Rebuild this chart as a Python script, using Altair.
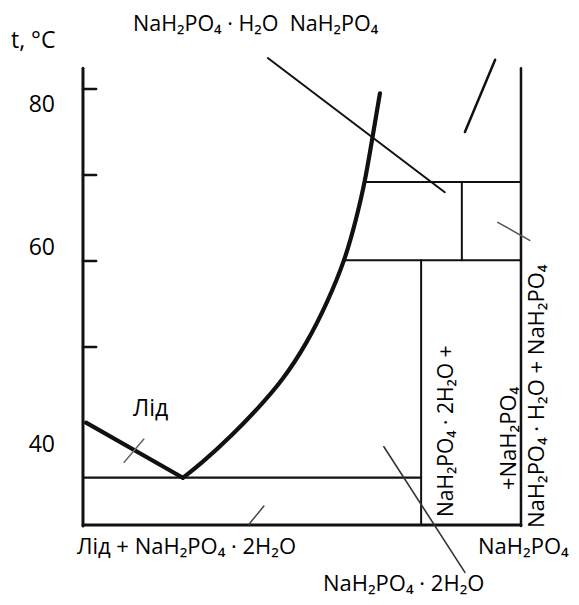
import altair as alt
import pandas as pd

# ---- data (x: composition units 0..100, y: temperature, °C) ----
seg_x1 = [0, 0, 100, 0, 0, 0, 0, 0, 77.2, 59.8, 64.4, 86.5, 0.7, 42.2, 94.1, 94.7, 9.4, 41.3, 68.7]
seg_y1 = [82.4, 29.3, 82.4, 80, 70, 60, 50, 34.8, 60.1, 60.1, 69.2, 69.2, 41.2, 83.6, 83.4, 64.5, 36.6, 31.5, 38.4]
seg_x2 = [0, 100, 100, 3, 3, 3, 3, 77.2, 77.2, 100, 100, 86.5, 22.8, 82.6, 87.2, 102.0, 13.9, 37.9, 87.2]
seg_y2 = [29.2, 29.3, 29.2, 80, 70, 60, 50, 34.8, 29.3, 60.1, 69.2, 60.1, 34.8, 68.0, 75.0, 62.4, 39.3, 29.4, 23.8]
seg_w = [3, 3, 2.5, 2.5, 2.5, 2.5, 2.5, 2.2, 2, 2, 2, 2, 4.2, 2, 2.5, 1.5, 1.5, 1.5, 1.6]
seg_c = ["#111"] * 15 + ["#555", "#666", "#444", "#333"]

curve_x = [22.8, 26.7, 34.2, 40.0, 45.4, 51.1, 55.9, 59.8, 62.3, 64.4, 66.2, 67.8]
curve_y = [34.8, 36.3, 39.8, 42.9, 46.0, 50.4, 55.3, 60.1, 64.7, 69.2, 74.7, 79.5]

tick_labels = ["80", "60", "40"]
tick_lx = [-6.39, -6.39, -6.39]
tick_ly = [77.36, 60.70, 37.83]

lab_text = ["t, °C", "NaH₂PO₄ · H₂O\u00a0\u00a0NaH₂PO₄", "Лід", "Лід + NaH₂PO₄ · 2H₂O", "NaH₂PO₄", "NaH₂PO₄ · 2H₂O"]
lab_x = [-16.44, 11.42, 11.42, -1.37, 90.2, 54.79]
lab_y = [84.73, 86.74, 41.98, 25.93, 25.93, 21.6]
lab_size = [23, 21.5, 23, 22, 22, 22]

rot_text = ["NaH₂PO₄ · 2H₂O +", "+NaH₂PO₄", "NaH₂PO₄ · H₂O + NaH₂PO₄"]
rot_x = [84.47, 98.86, 105.25]
rot_y = [30.23, 33.37, 28.95]
rot_size = [21, 22, 22]

# ---- tables ----
segs = pd.DataFrame({"x": seg_x1, "y": seg_y1, "x2": seg_x2, "y2": seg_y2, "w": seg_w, "c": seg_c})
curve = pd.DataFrame({"x": curve_x, "y": curve_y, "i": list(range(len(curve_x)))})
ticks = pd.DataFrame({"t": tick_labels, "x": tick_lx, "y": tick_ly})
labs = pd.DataFrame({"t": lab_text, "x": lab_x, "y": lab_y, "s": lab_size})
rots = pd.DataFrame({"t": rot_text, "x": rot_x, "y": rot_y, "s": rot_size})

xs = alt.Scale(domain=[-17.12, 111.42], nice=False, zero=False)
ys = alt.Scale(domain=[20.93, 89.42], nice=False, zero=False)
X = lambda f="x": alt.X(f + ":Q", scale=xs, axis=None)
Y = lambda f="y": alt.Y(f + ":Q", scale=ys, axis=None)
FONT = "Open Sans"

rules = alt.Chart(segs).mark_rule(strokeCap="round").encode(
    x=X(), y=Y(), x2="x2:Q", y2="y2:Q",
    strokeWidth=alt.StrokeWidth("w:Q", scale=None),
    color=alt.Color("c:N", scale=None),
)

line = alt.Chart(curve).mark_line(strokeWidth=4.2, color="#111", interpolate="basis", strokeCap="round").encode(
    x=X(), y=Y(), order="i:Q"
)

tick_text = alt.Chart(ticks).mark_text(align="right", baseline="alphabetic", font=FONT, fontSize=23, color="#000").encode(
    x=X(), y=Y(), text="t:N"
)

label_text = alt.Chart(labs).mark_text(align="left", baseline="alphabetic", font=FONT, color="#000").encode(
    x=X(), y=Y(), text="t:N", size=alt.Size("s:Q", scale=None)
)

rot_label = alt.Chart(rots).mark_text(align="left", baseline="alphabetic", font=FONT, angle=270, color="#000").encode(
    x=X(), y=Y(), text="t:N", size=alt.Size("s:Q", scale=None)
)

chart = alt.layer(rules, line, tick_text, label_text, rot_label).properties(
    width=563, height=589,
    autosize=alt.AutoSizeParams(type="none"),
    padding=0,
    background="white",
).configure_view(strokeWidth=0)

chart.save("out.html", embed_options={"renderer": "svg", "actions": False})
